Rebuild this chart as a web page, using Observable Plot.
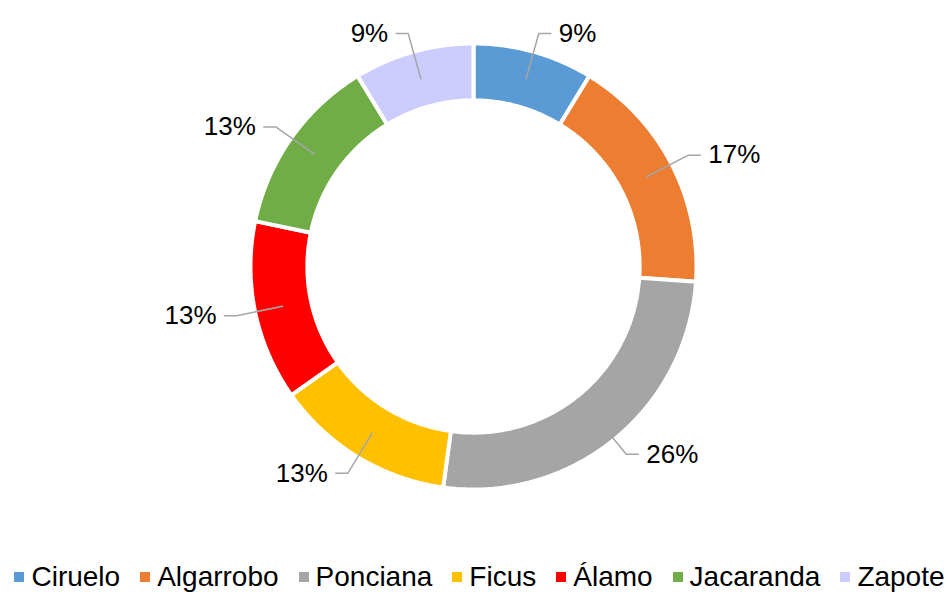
<!DOCTYPE html>
<html><head><meta charset="utf-8">
<script src="https://cdn.jsdelivr.net/npm/d3@7"></script>
<script src="https://cdn.jsdelivr.net/npm/@observablehq/plot@0.6"></script>
<style>
body{margin:0;background:#fff;font-family:"Liberation Sans",Arial,sans-serif}
#legend{display:flex;justify-content:center;align-items:center;height:34px;font-size:28px;color:#000;white-space:nowrap;padding-left:10px}
.item{display:flex;align-items:center;margin:0 10px}
.sw{width:10px;height:10px;margin-right:7px}
</style></head><body><div id="chart"></div><div id="legend"></div><script>
const categories = ["Ciruelo","Algarrobo","Ponciana","Ficus","Álamo","Jacaranda","Zapote"];
const counts = [2,4,6,3,3,3,2];
const colors = ["#5B9BD5","#ED7D31","#A5A5A5","#FFC000","#FF0000","#70AD47","#CCCCFF"];

const W = 949, H = 560, PX = 223; // px per unit radius
const inner = 0.745;
const total = d3.sum(counts);
let acc = 0;
const slices = categories.map((c,i)=>{
  const a0 = acc/total*2*Math.PI; acc += counts[i];
  const a1 = acc/total*2*Math.PI;
  return {cat:c, a0, a1, mid:(a0+a1)/2, color:colors[i], pct: Math.round(100*counts[i]/total)+"%"};
});
const pt = (r,a)=>({x: r*Math.sin(a), y: r*Math.cos(a)});
const marks = [];
for (const s of slices) {
  const pts = [];
  const n = 80;
  for (let k=0;k<=n;k++) pts.push(pt(1, s.a0+(s.a1-s.a0)*k/n));
  for (let k=n;k>=0;k--) pts.push(pt(inner, s.a0+(s.a1-s.a0)*k/n));
  pts.push(pts[0]);
  marks.push(Plot.line(pts,{x:"x",y:"y",fill:s.color,stroke:"white",strokeWidth:4,strokeLinejoin:"miter"}));
}
const leaders = [], labels = [];
for (const s of slices) {
  const st = pt(195/PX, s.mid), el = pt(242/PX, s.mid);
  const right = Math.sin(s.mid) > 0;
  const end = {x: el.x + (right?1:-1)*12/PX, y: el.y};
  leaders.push({cat:s.cat,...st},{cat:s.cat,...el},{cat:s.cat,...end});
  labels.push({...end, text:s.pct, right});
}
marks.push(Plot.line(leaders,{x:"x",y:"y",z:"cat",stroke:"#A6A6A6",strokeWidth:1.5}));
marks.push(Plot.text(labels.filter(d=>d.right),{x:"x",y:"y",text:"text",textAnchor:"start",dx:8,fontSize:26,fill:"#000"}));
marks.push(Plot.text(labels.filter(d=>!d.right),{x:"x",y:"y",text:"text",textAnchor:"end",dx:-8,fontSize:26,fill:"#000"}));

const chart = Plot.plot({
  width:W, height:H,
  marginLeft:473-PX, marginRight:W-473-PX, marginTop:266-PX, marginBottom:H-266-PX,
  x:{domain:[-1,1],axis:null}, y:{domain:[-1,1],axis:null},
  style:{fontFamily:"'Liberation Sans',Arial,sans-serif",background:"#fff"},
  marks
});
document.getElementById("chart").appendChild(chart);
const lg = document.getElementById("legend");
categories.forEach((c,i)=>{
  const it = document.createElement("div"); it.className="item";
  const sw = document.createElement("div"); sw.className="sw"; sw.style.background=colors[i];
  const tx = document.createElement("span"); tx.textContent=c;
  it.appendChild(sw); it.appendChild(tx); lg.appendChild(it);
});
</script></body></html>
